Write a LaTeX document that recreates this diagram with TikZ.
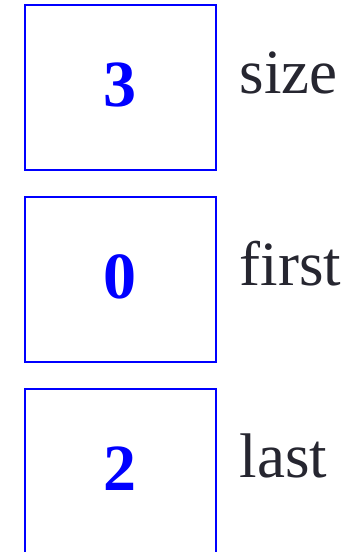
\documentclass[tikz,border=0pt]{standalone}
\usepackage{fontspec}
\setmainfont{Liberation Serif}
\usetikzlibrary{positioning}
\usepackage{xcolor}
\definecolor{cellblue}{RGB}{0,0,255}
\definecolor{namegray}{RGB}{38,38,48}
\tikzset{
cell/.style={draw=cellblue,line width=2pt,minimum width=190.7pt,minimum height=164.4pt,inner sep=0pt,text=cellblue,font=\fontsize{66}{79}\selectfont\bfseries,text height=45pt,text depth=8pt},
varname/.style={anchor=base west,inner sep=0pt,text=namegray,font=\fontsize{63}{76}\selectfont}
}
\begin{document}
\begin{tikzpicture}[x=1pt,y=1pt]
\useasboundingbox (0,0) rectangle (350,-552);
\node[cell] (sizebox) at (120.3,-87.5) {3};
\node[cell] (firstbox) at (120.3,-279.5) {0};
\node[cell] (lastbox) at (120.3,-471.5) {2};
\node[varname] (sizename) at ([xshift=23pt,yshift=-6pt]sizebox.east) {size};
\node[varname] (firstname) at ([xshift=23pt,yshift=-6pt]firstbox.east) {first};
\node[varname] (lastname) at ([xshift=23pt,yshift=-6pt]lastbox.east) {last};
\end{tikzpicture}
\end{document}
